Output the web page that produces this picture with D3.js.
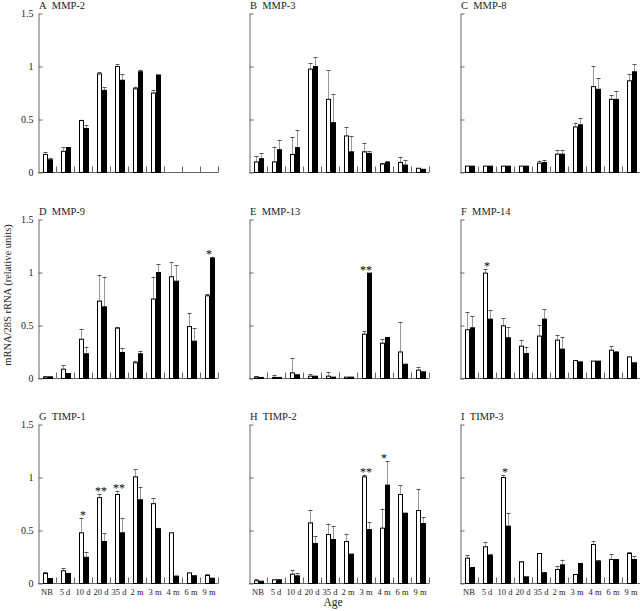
<!DOCTYPE html>
<html><head><meta charset="utf-8">
<script src="https://cdn.jsdelivr.net/npm/d3@7/dist/d3.min.js"></script>
<style>body{margin:0;background:#fff}svg{display:block}text{font-family:"Liberation Serif","Times New Roman",serif;fill:#222}.star{fill:#000;opacity:0.99}</style>
</head><body><svg id="c" width="640" height="611"></svg>
<script>
const ages = ["NB","5 d","10 d","20 d","35 d","2 m","3 m","4 m","6 m","9 m"];
const yTicks = [0, 0.5, 1, 1.5];
const panelLetters = ["A","B","C","D","E","F","G","H","I"];
const panelNames = ["MMP-2","MMP-3","MMP-8","MMP-9","MMP-13","MMP-14","TIMP-1","TIMP-2","TIMP-3"];

// white (open) bars, error above; black bars, error above
const mmp2W  = [0.17,0.20,0.49,0.93,1.0,0.79,0.75,null,null,null];
const mmp2WE = [0.02,0.04,0.01,0.02,0.02,0.02,0.03,0,0,0];
const mmp2B  = [0.12,0.235,0.415,0.775,0.87,0.95,0.92,null,null,null];
const mmp2BE = [0.02,0,0.03,0.03,0.06,0.02,0,0,0,0];

const mmp3W  = [0.10,0.10,0.17,0.975,0.69,0.345,0.195,0.08,0.095,0.04];
const mmp3WE = [0.055,0.145,0.165,0.055,0.275,0.08,0.08,0.01,0.055,0];
const mmp3B  = [0.13,0.215,0.235,1.0,0.47,0.195,0.18,0.095,0.07,0.03];
const mmp3BE = [0.05,0.095,0.165,0.085,0.27,0.15,0.02,0.01,0.045,0];

const mmp8W  = [0.06,0.06,0.06,0.06,0.088,0.173,0.43,0.81,0.69,0.865];
const mmp8WE = [0,0,0,0,0.025,0.037,0.04,0.195,0.04,0.065];
const mmp8B  = [0.06,0.06,0.06,0.06,0.094,0.173,0.45,0.785,0.69,0.95];
const mmp8BE = [0,0,0,0,0.022,0.037,0.06,0.105,0.08,0.07];

const mmp9W  = [0.013,0.088,0.37,0.73,0.475,0.148,0.75,0.96,0.49,0.78];
const mmp9WE = [0.012,0.04,0.1,0.25,0.012,0.02,0.21,0.14,0.125,0.015];
const mmp9B  = [0.016,0.047,0.233,0.676,0.245,0.233,1.0,0.918,0.352,1.135];
const mmp9BE = [0,0,0.067,0.285,0.04,0.027,0.08,0.15,0.12,0.015];

const mmp13W  = [0.013,0.01,0.053,0.022,0.022,0.013,0.418,0.333,0.25,0.079];
const mmp13WE = [0.012,0.025,0.137,0.016,0.044,0,0.028,0.037,0.285,0.031];
const mmp13B  = [0.01,0.01,0.035,0.022,0.013,0.013,0.994,0.387,0.135,0.063];
const mmp13BE = [0,0,0,0,0,0,0,0,0,0];

const mmp14W  = [0.46,0.994,0.497,0.305,0.40,0.362,0.17,0.164,0.267,0.204];
const mmp14WE = [0.17,0.036,0.073,0.055,0.103,0.048,0,0,0.038,0];
const mmp14B  = [0.478,0.56,0.384,0.236,0.56,0.277,0.157,0.164,0.245,0.148];
const mmp14BE = [0.107,0.085,0.1,0.064,0.094,0.11,0,0,0.01,0];

const timp1W  = [0.095,0.12,0.478,0.81,0.84,1.006,0.753,0.478,0.10,0.076];
const timp1WE = [0.013,0.026,0.142,0.03,0.037,0.074,0.054,0,0,0.014];
const timp1B  = [0.047,0.095,0.247,0.396,0.478,0.79,0.516,0.07,0.073,0.05];
const timp1BE = [0,0.006,0.053,0.079,0.142,0.12,0.012,0,0,0];

const timp2W  = [0.025,0.035,0.088,0.572,0.462,0.396,1.006,0.522,0.84,0.689];
const timp2WE = [0.013,0,0.038,0.126,0.104,0.074,0.019,0.185,0.085,0.198];
const timp2B  = [0.022,0.035,0.072,0.377,0.415,0.277,0.509,0.928,0.663,0.566];
const timp2BE = [0,0,0.028,0.07,0.129,0,0.069,0.229,0.006,0.063];

const timp3W  = [0.239,0.346,1.0,0.204,0.283,0.132,0.085,0.368,0.226,0.283];
const timp3WE = [0.028,0.047,0.028,0.006,0.006,0.032,0,0.032,0.051,0.017];
const timp3B  = [0.151,0.264,0.541,0.063,0.10,0.176,0.189,0.21,0.226,0.226];
const timp3BE = [0,0.012,0.126,0,0.01,0.05,0,0.01,0,0.034];

// significance marks: panel index, age, label
const starPanel = [3,4,5,6,6,6,7,7,8];
const starAge   = ["9 m","3 m","5 d","10 d","20 d","35 d","3 m","4 m","10 d"];
const starText  = ["*","**","*","*","**","**","**","*","*"];

const panels = [
  [mmp2W,mmp2WE,mmp2B,mmp2BE],[mmp3W,mmp3WE,mmp3B,mmp3BE],[mmp8W,mmp8WE,mmp8B,mmp8BE],
  [mmp9W,mmp9WE,mmp9B,mmp9BE],[mmp13W,mmp13WE,mmp13B,mmp13BE],[mmp14W,mmp14WE,mmp14B,mmp14BE],
  [timp1W,timp1WE,timp1B,timp1BE],[timp2W,timp2WE,timp2B,timp2BE],[timp3W,timp3WE,timp3B,timp3BE]
];

const svg = d3.select("#c");
const colX = [38, 249, 460];
const rowZero = [172.5, 378.5, 583.5];
const plotW = 180, plotH = 159;
const axisCol = "#666";

panels.forEach((p, i) => {
  const r = Math.floor(i / 3), c = i % 3;
  const x0 = colX[c], y0 = rowZero[r];
  const g = svg.append("g");
  const x = d3.scaleBand().domain(ages).range([x0, x0 + plotW]);
  const sub = d3.scaleBand().domain(["w","b"]).range([4.5, 14.5]);
  const y = d3.scaleLinear().domain([0, 1.5]).range([y0, y0 - plotH]);

  // y axis
  const ya = d3.axisLeft(y).tickValues(yTicks).tickSizeInner(-4).tickSizeOuter(0).tickPadding(5)
    .tickFormat(c === 0 ? (d => d === 0 ? "0" : String(d)) : () => "");
  const yg = g.append("g").attr("transform", `translate(${x0 + 0.5},0)`).call(ya);
  yg.selectAll("path,line").attr("stroke", axisCol);
  yg.selectAll("text").style("font-size", "10px").attr("fill", "#222");

  // x axis line + inward boundary ticks
  g.append("line").attr("x1", x0).attr("x2", x0 + plotW).attr("y1", y0).attr("y2", y0).attr("stroke", axisCol);
  g.selectAll(".xt").data(ages).enter().append("line")
    .attr("x1", d => Math.round(x(d) + x.bandwidth()) + 0.5)
    .attr("x2", d => Math.round(x(d) + x.bandwidth()) + 0.5)
    .attr("y1", y0).attr("y2", y0 - 6).attr("stroke", axisCol);

  if (r === 2) {
    g.selectAll(".xl").data(ages).enter().append("text")
      .attr("x", d => x(d) + x.bandwidth() / 2).attr("y", y0 + 11)
      .attr("text-anchor", "middle").style("font-size", "8.5px").text(d => d);
  }

  const series = [["w", p[0], p[1], "#fff"], ["b", p[2], p[3], "#000"]];
  series.forEach(([key, vals, errs, fill]) => {
    const data = ages.map((a, k) => ({a, v: vals[k], e: errs[k]})).filter(d => d.v != null);
    const bw = sub.bandwidth();
    // error bars
    const eb = data.filter(d => d.e > 0.004);
    g.selectAll(".e" + key).data(eb).enter().append("line")
      .attr("x1", d => Math.round(x(d.a) + sub(key) + bw / 2) + 0.5)
      .attr("x2", d => Math.round(x(d.a) + sub(key) + bw / 2) + 0.5)
      .attr("y1", d => y(d.v)).attr("y2", d => y(d.v + d.e)).attr("stroke", "#999");
    g.selectAll(".c" + key).data(eb).enter().append("line")
      .attr("x1", d => Math.round(x(d.a) + sub(key) + bw / 2) - 1.5)
      .attr("x2", d => Math.round(x(d.a) + sub(key) + bw / 2) + 2.5)
      .attr("y1", d => Math.round(y(d.v + d.e)) + 0.5).attr("y2", d => Math.round(y(d.v + d.e)) + 0.5)
      .attr("stroke", "#555");
    g.selectAll(".b" + key).data(data).enter().append("rect")
      .attr("x", d => Math.round(x(d.a) + sub(key)) + 0.5)
      .attr("y", d => y(d.v))
      .attr("width", bw - 1)
      .attr("height", d => y0 - y(d.v))
      .attr("fill", fill).attr("stroke", "#000").attr("stroke-width", 1);
  });

  // title
  g.append("text").attr("x", x0 + 1).attr("y", y0 - plotH - 4.5).style("font-size", "10.5px")
    .text(panelLetters[i] + "\u2002" + panelNames[i]);

  // significance marks
  starPanel.forEach((pi, k) => {
    if (pi !== i) return;
    const idx = ages.indexOf(starAge[k]);
    const top = d3.max([(p[0][idx] || 0) + (p[1][idx] || 0), (p[2][idx] || 0) + (p[3][idx] || 0)]);
    g.append("text").attr("class", "star").attr("x", x(starAge[k]) + x.bandwidth() / 2).attr("y", y(top) + 1)
      .attr("text-anchor", "middle").style("font-size", "12px")
      .text(starText[k]);
  });
});

svg.append("text").attr("transform", "translate(11,295) rotate(-90)").attr("text-anchor", "middle")
  .style("font-size", "10.5px").text("mRNA/28S rRNA (relative units)");
svg.append("text").attr("x", 333).attr("y", 606).attr("text-anchor", "middle")
  .style("font-size", "11.5px").text("Age");
</script></body></html>
